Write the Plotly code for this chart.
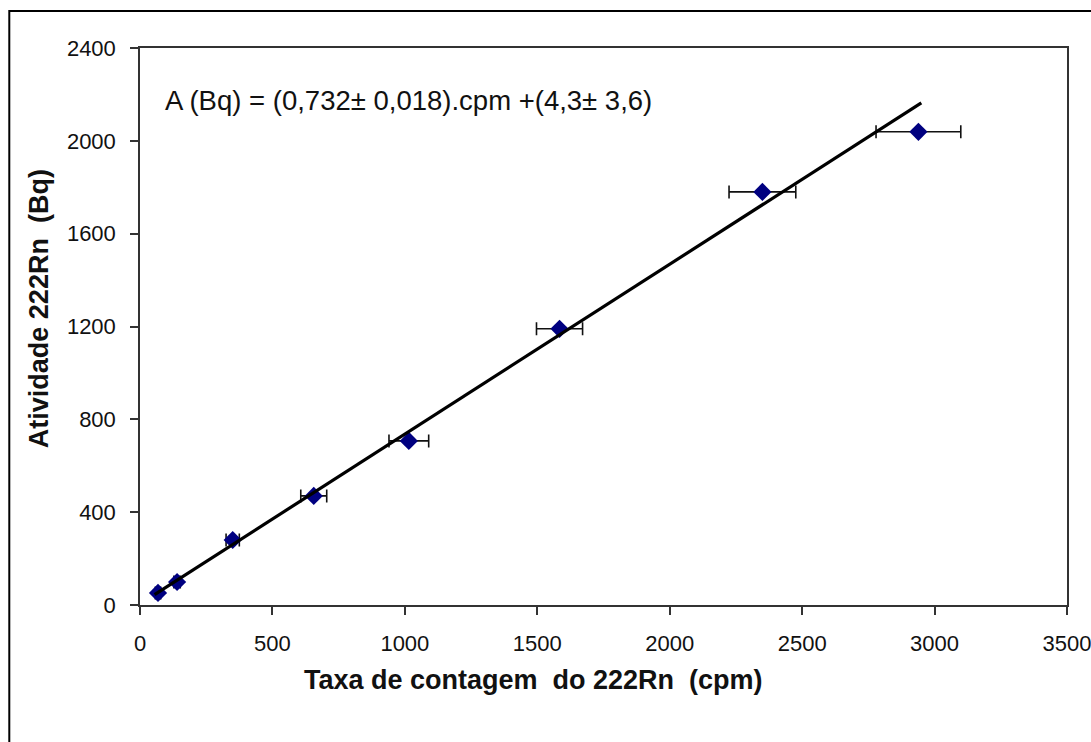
import plotly.graph_objects as go

# Data
cpm = [68, 140, 350, 656, 1015, 1584, 2350, 2939]
atividade = [52, 99, 280, 470, 707, 1190, 1780, 2039]
cpm_err = [10, 12, 25, 49, 75, 87, 126, 160]

# Linear fit parameters (from the equation on the chart)
slope = 0.732
intercept = 4.3
fit_x = [55, 2950]
fit_y = [slope * v + intercept for v in fit_x]

x_ticks = [0, 500, 1000, 1500, 2000, 2500, 3000, 3500]
y_ticks = [0, 400, 800, 1200, 1600, 2000, 2400]

FONT = "Liberation Sans, Arial"

fig = go.Figure()

fig.add_trace(go.Scatter(
    x=cpm, y=atividade, mode="markers",
    marker=dict(symbol="diamond", size=14, color="#000080"),
    error_x=dict(type="data", array=cpm_err, visible=True,
                 color="#111111", thickness=1.6, width=6.5),
    showlegend=False,
))

fig.add_trace(go.Scatter(
    x=fit_x, y=fit_y, mode="lines",
    line=dict(color="#000000", width=3.2),
    showlegend=False,
))

fig.add_annotation(
    x=0.0245, y=0.905, xref="paper", yref="paper",
    xanchor="left", yanchor="middle", showarrow=False,
    text="A (Bq) = (0,732\u00b1 0,018).cpm +(4,3\u00b1 3,6)",
    font=dict(family=FONT, size=27.5, color="#111111"),
)

# axis titles
fig.add_annotation(
    x=0.425, y=-0.135, xref="paper", yref="paper",
    xanchor="center", yanchor="middle", showarrow=False,
    text="<b>Taxa de contagem  do 222Rn  (cpm)</b>",
    font=dict(family=FONT, size=27, color="#111111"),
)
fig.add_annotation(
    x=-0.1095, y=0.532, xref="paper", yref="paper",
    xanchor="center", yanchor="middle", showarrow=False, textangle=-90,
    text="<b>Atividade 222Rn  (Bq)</b>",
    font=dict(family=FONT, size=27, color="#111111"),
)

# outer frame
fig.add_shape(type="rect", xref="paper", yref="paper",
              x0=-0.141, x1=1.2, y0=-0.5, y1=1.0665,
              line=dict(color="#000000", width=2), layer="below")

axis_common = dict(
    showgrid=False, zeroline=False, showline=True, mirror=True,
    linecolor="#333333", linewidth=1.5,
    ticks="outside", ticklen=8, tickwidth=1.5, tickcolor="#333333",
    tickfont=dict(family=FONT, size=22, color="#111111"),
    ticklabeloverflow="allow", automargin=False,
)

fig.update_layout(
    width=1091, height=742,
    margin=dict(l=140, r=24, t=48, b=137),
    paper_bgcolor="white", plot_bgcolor="white",
    xaxis=dict(range=[0, 3500], tickvals=x_ticks, ticklabelstandoff=10, **axis_common),
    yaxis=dict(range=[0, 2400], tickvals=y_ticks, ticklabelstandoff=10, **axis_common),
)

fig.write_html("out.html")
